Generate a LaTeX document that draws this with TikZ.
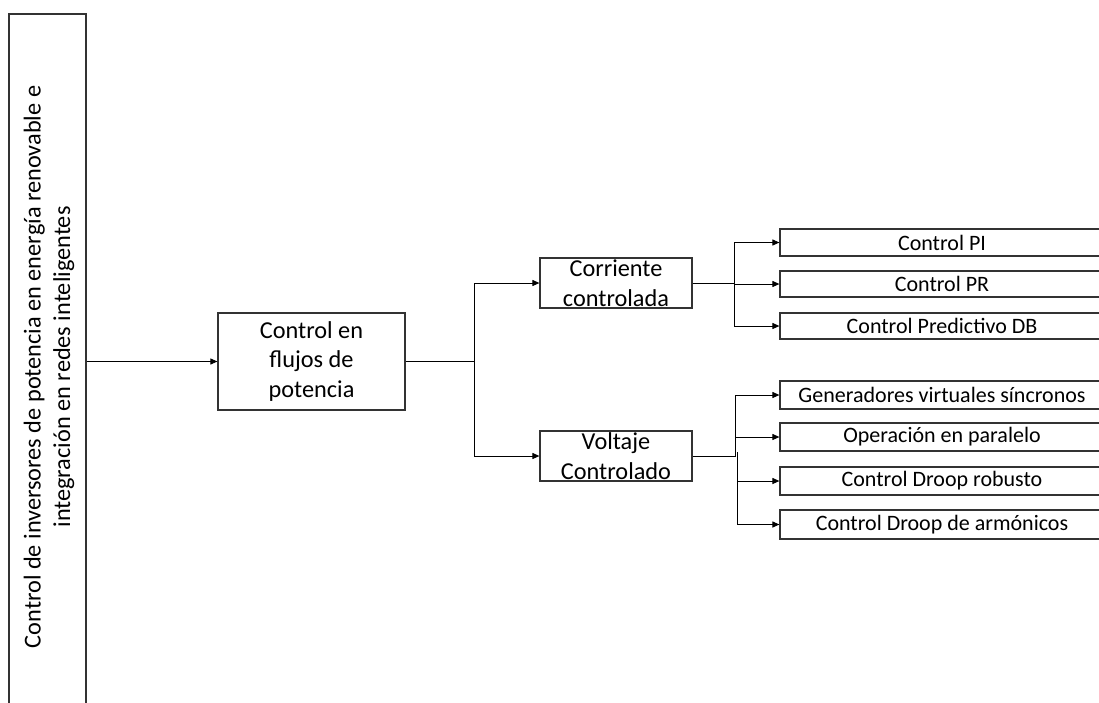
\documentclass[tikz,border=0pt]{standalone}
\usepackage{fontspec}
\setmainfont{Carlito}
\usetikzlibrary{arrows.meta}
\tikzset{
  box/.style={draw=black!80, line width=1.2pt, fill=white, inner sep=0pt, align=center, anchor=center},
  bigtext/.style={font=\fontsize{24.3}{29.5}\selectfont},
  smalltext/.style={font=\fontsize{22}{26}\selectfont},
  leaf/.style={box, smalltext, minimum width=324pt},
  conn/.style={draw=black, line width=1pt},
  arr/.style={conn, -{Triangle[length=7pt,width=6pt]}}
}
\begin{document}
\begin{tikzpicture}[x=1pt,y=-1pt]
\useasboundingbox (0,0) rectangle (1099,702);
\clip (0,0) rectangle (1099,702);
\node[box, bigtext, minimum width=77pt, minimum height=706pt] (root) at (47.5,367) {};
\node[bigtext, rotate=90, align=center] (roottext) at (49,367) {Control de inversores de potencia en energía renovable e\\integración en redes inteligentes};
\node[box, bigtext, minimum width=187pt, minimum height=97pt] (main) at (311.5,361.5) {Control en\\flujos de\\potencia};
\node[box, bigtext, minimum width=152pt, minimum height=50pt] (cor) at (616,283) {Corriente\\controlada};
\node[box, bigtext, minimum width=152pt, minimum height=50pt] (vol) at (616,456) {Voltaje\\Controlado};
\node[leaf, minimum height=27pt] (pi) at (942,242.5) {Control PI};
\node[leaf, minimum height=26pt] (pr) at (942,284) {Control PR};
\node[leaf, minimum height=26pt] (db) at (942,326) {Control Predictivo DB};
\node[leaf, minimum height=28pt] (gvs) at (942,395) {Generadores virtuales síncronos};
\node[leaf, minimum height=28pt] (op) at (942,437) {Operación en paralelo};
\node[leaf, minimum height=28pt] (dr) at (942,481) {Control Droop robusto};
\node[leaf, minimum height=29pt] (da) at (942,524.5) {Control Droop de armónicos};
% connectors
\draw[arr] (main.west -| root.east) -- (main.west);
\draw[conn] (main.east) -- ++(69,0) coordinate (j1);
\draw[arr] (j1) |- (cor.west);
\draw[arr] (j1) |- (vol.west);
\draw[conn] (cor.east) -- ++(42,0) coordinate (j2);
\draw[arr] (j2) |- (pi.west);
\draw[arr] (j2) |- (pr.west);
\draw[arr] (j2) |- (db.west);
\draw[conn] (vol.east) -- ++(43,0) coordinate (j3);
\draw[arr] (j3) |- (gvs.west);
\draw[arr] (j3 |- op.west) -- (op.west);
\coordinate (j4) at ([xshift=2pt,yshift=4pt]j3);
\draw[arr] (j4) |- (dr.west);
\draw[arr] (j4) |- (da.west);
\end{tikzpicture}
\end{document}
